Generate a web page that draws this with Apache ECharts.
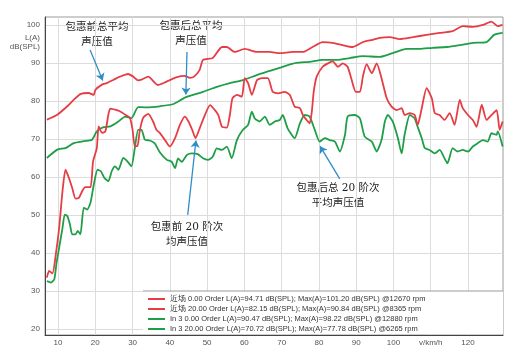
<!DOCTYPE html>
<html>
<head>
<meta charset="utf-8">
<script src="https://cdn.jsdelivr.net/npm/echarts@6/dist/echarts.min.js"></script>
<style>
  html, body { margin: 0; background: #fff; }
  #chart { width: 525px; height: 353px; }
</style>
</head>
<body>
<div id="chart"></div>
<script>
// speed (km/h) vs level dB(SPL)
const near0 = [[7,75.1],[9.8,76.4],[12.5,78.6],[14.2,80.3],[16,81.8],[18.2,82.1],[19.6,81.6],[20,82.9],[21.8,84.3],[23.1,84.7],[24.9,85.6],[26.6,86.4],[28.8,87.1],[30.2,86.4],[31.5,85.4],[32.4,85.6],[34.2,86.4],[36.8,84.2],[38.5,84.8],[40,85.5],[41.9,86.3],[44,86.6],[45.4,86.1],[46.5,86.4],[48,88.2],[48.9,90.8],[51.5,91.3],[54,94.2],[55.3,94.2],[57.4,92.9],[60.1,93.7],[63.3,92.9],[66.8,92.9],[69.5,92.6],[73,92.9],[75.7,92.9],[78.3,94.2],[81,95.5],[83.7,95.3],[86.4,94.7],[89,94.2],[91.8,95.5],[94.4,96.1],[96.3,96.6],[99,96.8],[101.7,96.3],[105.2,96.8],[108.9,97.4],[112.4,97.9],[115.9,98.4],[118.6,99.7],[121.3,99.5],[124,100],[126.3,100.9],[128,99.7],[129.3,100]];

const near20 = [[7,33.5],[7.6,35.3],[8.5,34.6],[9.4,39.6],[10.3,46.6],[11.2,56.3],[12,61.9],[12.9,59.8],[13.8,57.1],[14.7,54.3],[15.6,54.5],[16.5,56.3],[17.3,57.3],[18.7,57.3],[19.4,64.1],[20.4,67.6],[20.9,73.3],[21.8,71.6],[22.7,72],[23.5,76.4],[24,78],[25.3,77.7],[26.6,77.3],[28,76.4],[29.3,75.5],[30,72.4],[30.6,68.1],[31.3,68.1],[31.9,72],[32.8,75.5],[34.2,76.6],[35.5,74.6],[36.4,72.4],[37.3,71.6],[38.7,69.7],[40,68],[41.4,70.2],[42.7,73.7],[44,75.9],[45,74.6],[46,72.4],[46.9,70.2],[48,72.8],[49.4,76.3],[50.8,78.9],[52.1,77.6],[53,76.3],[54,73.2],[55.3,73],[56.1,76.3],[56.8,80.7],[58,81.6],[59.3,81.1],[60.1,86],[61,84.7],[62,81.6],[63.4,85.5],[64.7,86],[66.3,86],[67.6,82.4],[69,82],[70.8,82.4],[72.2,81.6],[73.5,78.5],[74.9,78.1],[75.7,76.3],[76.7,75],[77.5,74.1],[78.1,77.2],[78.6,82.4],[79.4,86.4],[81,89],[82.4,89.9],[83.7,90.4],[85.1,89],[86.4,89.9],[87.7,89],[88.8,85.5],[89.9,82.4],[91,82.4],[91.8,86.4],[92.8,89.7],[94.2,87.3],[95.5,89.9],[96.8,86],[98.2,80.7],[99.5,78.5],[100.9,77.6],[102.2,78.1],[103,76.3],[104.4,76.8],[105.7,76.3],[106.5,73.7],[107.6,78.1],[108.9,83.4],[110.3,80.7],[111.1,76.8],[112.4,76.3],[113.7,75],[115.1,76.8],[116.4,73.7],[117.8,80.3],[118.6,78.1],[120,76.3],[121.3,75],[122.3,73.2],[123.7,79],[125,75],[126.3,76.3],[127.7,77.6],[128.5,72.4],[129.3,74.6]];

const in30 = [[7,65],[9.8,67.2],[12,67.6],[14.2,68.9],[16.9,69.4],[19.1,69.8],[20.4,72],[22.2,73.1],[24,73.3],[26.2,74.6],[28,75.9],[29.7,75.5],[31.5,78.4],[33.7,78.3],[37.3,78.6],[41,79.2],[44.3,81],[48.9,82.4],[52.6,83.7],[56.1,84.7],[59.6,85.5],[63.3,86.8],[66.8,87.9],[70.3,89],[73.9,90],[77.5,90.3],[81,90.8],[84.8,90.8],[88.3,91.3],[91.8,91.8],[96.3,91.6],[99.8,92.6],[103.5,93.7],[107,93.7],[110.5,94],[114.3,94.2],[117.8,94.7],[121.3,95.3],[125,95.5],[127,97.4],[129.3,97.9]];

const in320 = [[7,32.6],[8.1,32.2],[9,33.1],[9.6,37.4],[10.3,41.4],[11.2,46.6],[11.8,50.1],[12.5,49.7],[13.2,47.5],[13.8,44.9],[14.7,44.9],[15.3,45.8],[16,44.9],[16.9,51.9],[17.8,51.4],[18.7,53.2],[19.6,58],[20.6,61.9],[21.5,61.5],[22.4,59.8],[23.5,58.9],[24.4,61.5],[25.3,62.8],[26.2,61.9],[27.5,65],[28.6,64.1],[29.7,62.8],[30.6,67.6],[31.5,72.4],[32.4,72.4],[33.3,69.8],[34.6,69.6],[35.9,68.9],[37.3,66.5],[39.2,64.5],[40.5,64],[41.4,62.3],[42.2,64.9],[43.2,64],[44.6,65.8],[45.9,66.2],[47.5,66],[48.9,64.9],[50.2,64.5],[51.5,65.3],[52.6,67.5],[54,67.1],[55.3,68],[56.6,64.9],[58,69.7],[59.6,72.4],[61,73.7],[62,77.2],[62.8,75.4],[64.1,74.6],[65.5,75.9],[66.8,73.7],[68.2,74.6],[69.5,75],[70.3,76.3],[71.6,72.8],[73.5,70.2],[74.9,74.1],[76.2,76.3],[77.5,75.9],[78.9,72.4],[80.2,69.3],[81.6,70.2],[82.9,69.7],[84.3,69.3],[85.6,66.7],[87,71.1],[87.7,75.9],[89.6,76.3],[91,75.4],[92.3,70.6],[94.2,69.3],[95.5,66.7],[96.8,69.7],[97.7,74.6],[98.5,76.3],[99.8,74.6],[101.2,70.2],[102.2,66.2],[103,71.1],[104.4,76.3],[105.7,75.4],[106.5,73.2],[107.6,70.2],[108.4,67.6],[109.7,67.1],[111.1,66.2],[112.4,67.1],[113.7,64.9],[114.5,63.6],[115.9,67.6],[117.2,66.7],[118.6,67.1],[120,66.7],[121.3,68],[122.6,68.9],[124,69.7],[125.3,69.3],[126.3,71.5],[127.7,71.1],[128,72],[129.3,68]];

const xTicks = [10, 20, 30, 40, 50, 60, 70, 80, 90, 100, 110, 120];
const yTicks = [20, 30, 40, 50, 60, 70, 80, 90, 100];

const seriesNames = [
  "近场 0.00 Order L(A)=94.71 dB(SPL); Max(A)=101.20 dB(SPL) @12670 rpm",
  "近场 20.00 Order L(A)=82.15 dB(SPL); Max(A)=90.84 dB(SPL) @8365 rpm",
  "In 3 0.00 Order L(A)=90.47 dB(SPL); Max(A)=98.22 dB(SPL) @12880 rpm",
  "In 3 20.00 Order L(A)=70.72 dB(SPL); Max(A)=77.78 dB(SPL) @6265 rpm"
];
const seriesData = [near0, near20, in30, in320];
const red = "#e63d45";
const green = "#1f9e48";
const seriesColors = [red, red, green, green];

// arrows [from, to] in data coords
const arrows = [
  [[18.6, 93.4], [22.0, 85.4]],
  [[44.6, 92.9], [44.3, 81.7]],
  [[44.8, 50.0], [47.0, 69.6]],
  [[85.6, 59.5], [80.3, 68.1]]
];

const cjkFont = "'DejaVu Serif', 'Noto Sans CJK SC', serif";
const noteStyle = { fill: "#222", fontSize: 10.5, fontFamily: cjkFont, lineHeight: 15, textAlign: "center" };

const chart = echarts.init(document.getElementById("chart"));

const series = seriesData.map((d, i) => ({
  name: seriesNames[i],
  type: "line",
  data: d,
  showSymbol: false,
  smooth: 0.2,
  lineStyle: { color: seriesColors[i], width: 1.8 },
  itemStyle: { color: seriesColors[i] },
  z: i < 2 ? 3 : 2
}));

series[0].markLine = {
  silent: true,
  symbol: ["none", "arrow"],
  symbolSize: 7,
  label: { show: false },
  lineStyle: { color: "#2f8ec8", width: 1.3, type: "solid" },
  emphasis: { disabled: true },
  data: arrows.map(a => [{ coord: a[0] }, { coord: a[1] }])
};

chart.setOption({
  animation: false,
  grid: { left: 45, top: 17, right: 22, bottom: 18, show: true, borderColor: "#9a9a9a", borderWidth: 1 },
  xAxis: {
    type: "value",
    min: 6.5,
    max: 129.4,
    axisLine: { lineStyle: { color: "#444" } },
    axisTick: { show: false, customValues: xTicks },
    axisLabel: {
      customValues: xTicks,
      formatter: v => (v === 110 ? "v/km/h" : v),
      color: "#555",
      fontSize: 8,
      fontFamily: "Liberation Sans",
      margin: 4
    },
    splitLine: { show: true, lineStyle: { color: "#dcdcdc" } }
  },
  yAxis: {
    type: "value",
    min: 18.4,
    max: 102.1,
    axisLine: { show: true, lineStyle: { color: "#444" } },
    axisTick: { show: false, customValues: yTicks },
    axisLabel: { customValues: yTicks, color: "#555", fontSize: 8, fontFamily: "Liberation Sans", margin: 5 },
    splitLine: { show: true, lineStyle: { color: "#dcdcdc" } }
  },
  legend: {
    orient: "vertical",
    left: 148,
    top: 294,
    icon: "rect",
    itemWidth: 17,
    itemHeight: 2,
    itemGap: 0,
    padding: 0,
    z: 10,
    textStyle: { fontSize: 7.5, color: "#333", lineHeight: 10, fontFamily: "Liberation Sans" },
    data: seriesNames
  },
  graphic: [
    { type: "rect", z: 5, shape: { x: 143, y: 291, width: 360, height: 43 }, style: { fill: "#fff" } },
    { type: "line", z: 6, shape: { x1: 143, y1: 291, x2: 503, y2: 291 }, style: { stroke: "#9a9a9a", lineWidth: 1 } },
    { type: "text", x: 40, y: 33, style: { text: "L(A)\ndB(SPL)", fill: "#555", fontSize: 8, fontFamily: "Liberation Sans", lineHeight: 9, textAlign: "right" } },
    { type: "text", x: 97, y: 20, style: Object.assign({ text: "包惠前总平均\n声压值" }, noteStyle) },
    { type: "text", x: 191, y: 19, style: Object.assign({ text: "包惠后总平均\n声压值" }, noteStyle) },
    { type: "text", x: 187, y: 220, style: Object.assign({ text: "包惠前 20 阶次\n均声压值" }, noteStyle) },
    { type: "text", x: 338, y: 181, style: Object.assign({ text: "包惠后总 20 阶次\n平均声压值" }, noteStyle) }
  ],
  series: series
});
</script>
</body>
</html>
